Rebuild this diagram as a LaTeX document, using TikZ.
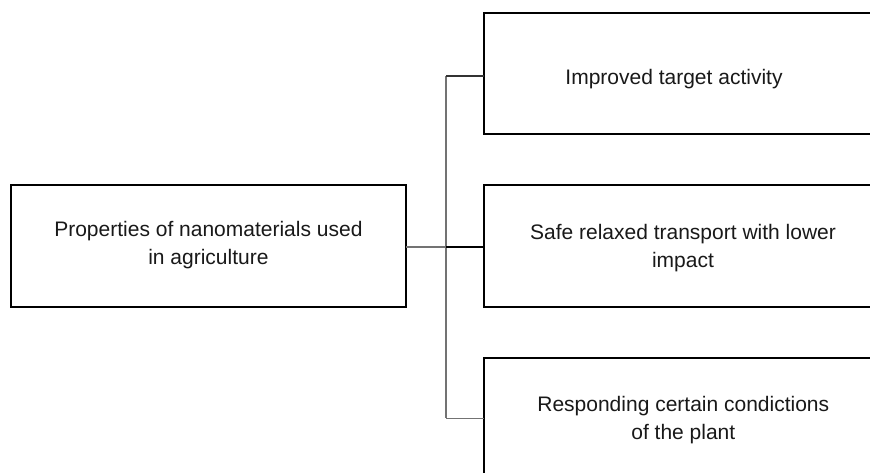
\documentclass[tikz,border=0pt]{standalone}
\usepackage{fontspec}
\setmainfont{Liberation Sans}
\begin{document}
\begin{tikzpicture}[x=1pt,y=-1pt,
  box/.style={draw=black,line width=2pt,inner sep=0pt,outer sep=0pt},
  lbl/.style={font=\fontsize{21}{28}\selectfont,align=center,inner sep=0pt,text=black!90},
  conn/.style={line width=1.3pt,draw=black!55},
  connd/.style={line width=1.3pt,draw=black!80}]
\useasboundingbox (0,0) rectangle (870,473);
\clip (0,0) rectangle (870,473);
\fill[white] (0,0) rectangle (870,473);
% boxes
\node[box,minimum width=394.7pt,minimum height=122pt] (left) at (208.4,245.7) {};
\node[box,minimum width=398pt,minimum height=120.5pt] (top) at (682.5,73.75) {};
\node[box,minimum width=398pt,minimum height=122pt] (mid) at (682.5,245.7) {};
\node[box,minimum width=398pt,minimum height=122pt] (bot) at (682.5,418.7) {};
% texts
\node[lbl] (tleft) at (208.4,245.3) {Properties of nanomaterials used\\in agriculture};
\node[lbl,anchor=base] (ttop) at (674,85) {Improved target activity};
\node[lbl] (tmid) at (683,248) {Safe relaxed transport with lower\\impact};
\node[lbl] (tbot) at (683.3,420) {Responding certain condictions\\of the plant};
% connectors
\coordinate (jt) at (446,76);
\coordinate (jm) at (446,247);
\coordinate (jb) at (446,418.3);
\draw[conn] (jt) -- (jb);
\draw[connd] (jt) -- (jt -| top.west);
\draw[conn] (left.east |- jm) -- (jm);
\draw[line width=1.3pt,draw=black] (jm) -- (jm -| mid.west);
\draw[conn] (jb) -- (jb -| bot.west);
\end{tikzpicture}
\end{document}
